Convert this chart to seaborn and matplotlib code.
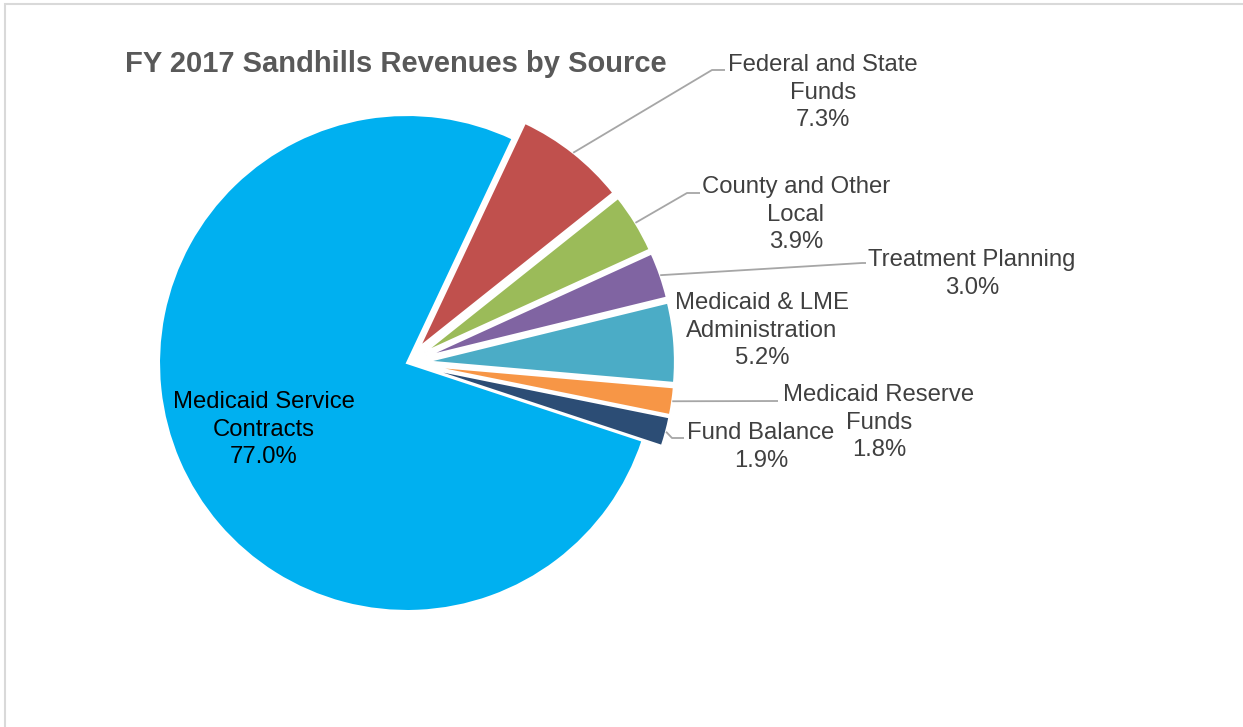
import numpy as np
import matplotlib.pyplot as plt
import seaborn as sns
from matplotlib.patches import Rectangle

sns.set_theme(style="white")
plt.rcParams['font.family'] = ['Liberation Sans', 'DejaVu Sans']

# data
sources = ["Federal and State\nFunds", "County and Other\nLocal", "Treatment Planning",
           "Medicaid & LME\nAdministration", "Medicaid Reserve\nFunds", "Fund Balance",
           "Medicaid Service\nContracts"]
shares = [7.3, 3.9, 3.0, 5.2, 1.8, 1.9, 77.0]
colors = sns.color_palette(["#C0504D", "#9BBB59", "#8064A2", "#4BACC6",
                            "#F79646", "#2C4D75", "#00B0F0"])

# layout (pixel coords of the picture, y downwards)
W, H = 1243, 727
def fy(y):
    return H - y

# label centre x and baseline of first line
label_xy = [(823, 71), (796, 193), (972, 266), (762, 309), (879, 401), (761, 439), (264, 408)]
line_gap = 27.7
elbows = [(712, 70), (687, 193), (862, 263), None, (778, 401), (672, 438), None]
ends = [(725, 70), (700, 193), (866, 263), None, (778, 401), (684, 438), None]
explode = [20, 20, 20, 20, 20, 20, 0]

fig = plt.figure(figsize=(W / 100, H / 100), dpi=100)
ax = fig.add_axes([0, 0, 1, 1])

wedges, _ = ax.pie(shares, colors=colors, startangle=64.8, counterclock=False,
                   explode=explode, radius=248, center=(407, fy(363)),
                   wedgeprops=dict(edgecolor='white', linewidth=1.5))
ax.set_xlim(0, W)
ax.set_ylim(0, H)
ax.set_aspect('equal')
ax.axis('off')

# leader lines from wedge edge to label
for w, el, en in zip(wedges, elbows, ends):
    if el is None:
        continue
    t = np.deg2rad((w.theta1 + w.theta2) / 2)
    sx = w.center[0] + w.r * np.cos(t)
    sy = w.center[1] + w.r * np.sin(t)
    ax.plot([sx, el[0], en[0]], [sy, fy(el[1]), fy(en[1])], color='#A6A6A6', lw=1.3,
            solid_capstyle='butt')

# data labels, one text per line
for name, v, (x, y) in zip(sources, shares, label_xy):
    c = 'black' if name.startswith("Medicaid Service") else '#404040'
    lines = name.split("\n") + [f"{v:.1f}%"]
    for i, s in enumerate(lines):
        ax.text(x, fy(y + i * line_gap), s, ha='center', va='baseline', fontsize=17.2,
                color=c)

ax.text(396, fy(72), "FY 2017 Sandhills Revenues by Source", ha='center', va='baseline',
        fontsize=21, fontweight='bold', color='#595959')

# chart border (only top/left visible)
ax.add_patch(Rectangle((5, -20), W + 20, H - 4 + 20, fill=False, edgecolor='#D9D9D9',
                       lw=1.5, clip_on=False))

fig.savefig("out.png", dpi=100)
